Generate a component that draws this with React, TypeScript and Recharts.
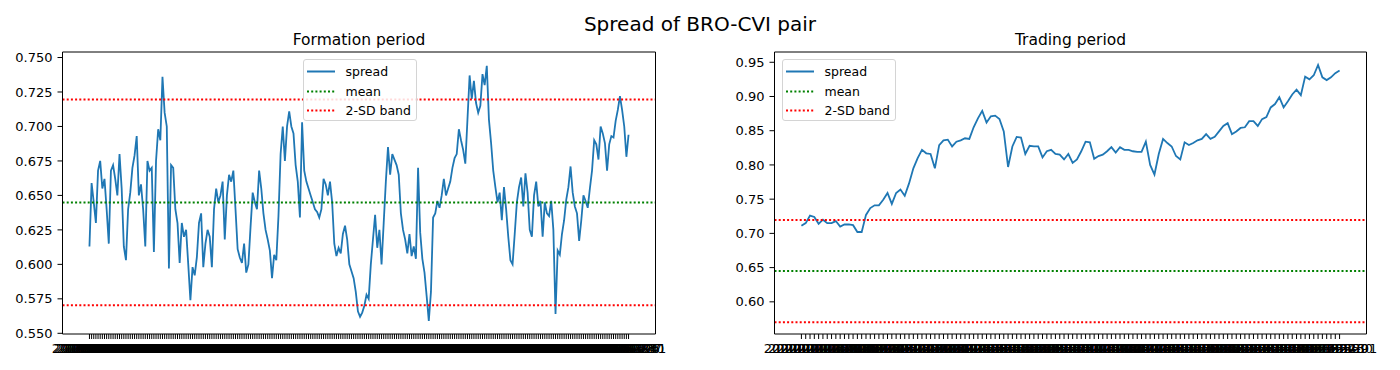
import { LineChart, Line, XAxis, YAxis, ReferenceLine, Legend } from "recharts";

// spread values (formation = 2019, trading = H1 2020)
const formationSpread = [
  0.613, 0.659, 0.645, 0.630, 0.668, 0.675, 0.655, 0.662, 0.640, 0.615,
  0.668, 0.672, 0.662, 0.650, 0.680, 0.655, 0.613, 0.603, 0.640, 0.652,
  0.670, 0.679, 0.693, 0.650, 0.658, 0.640, 0.613, 0.675, 0.668, 0.670,
  0.609, 0.675, 0.698, 0.690, 0.736, 0.710, 0.700, 0.597, 0.672, 0.670,
  0.640, 0.630, 0.601, 0.630, 0.620, 0.625, 0.600, 0.574, 0.598, 0.592,
  0.605, 0.630, 0.637, 0.598, 0.615, 0.625, 0.620, 0.598, 0.640, 0.655,
  0.645, 0.650, 0.660, 0.618, 0.650, 0.665, 0.660, 0.668, 0.640, 0.611,
  0.605, 0.601, 0.615, 0.594, 0.600, 0.627, 0.652, 0.645, 0.640, 0.668,
  0.655, 0.637, 0.625, 0.618, 0.610, 0.590, 0.607, 0.603, 0.635, 0.680,
  0.700, 0.675, 0.700, 0.711, 0.700, 0.695, 0.672, 0.660, 0.634, 0.703,
  0.668, 0.660, 0.655, 0.650, 0.645, 0.640, 0.638, 0.634, 0.640, 0.662,
  0.658, 0.650, 0.660, 0.645, 0.615, 0.606, 0.612, 0.608, 0.622, 0.628,
  0.618, 0.600, 0.595, 0.590, 0.580, 0.566, 0.562, 0.565, 0.570, 0.578,
  0.575, 0.600, 0.618, 0.636, 0.612, 0.625, 0.600, 0.630, 0.660, 0.685,
  0.665, 0.680, 0.676, 0.672, 0.665, 0.637, 0.625, 0.618, 0.608, 0.622,
  0.606, 0.613, 0.604, 0.670, 0.623, 0.604, 0.594, 0.577, 0.559, 0.580,
  0.634, 0.637, 0.646, 0.641, 0.650, 0.662, 0.650, 0.655, 0.660, 0.670,
  0.677, 0.680, 0.698, 0.690, 0.683, 0.673, 0.705, 0.737, 0.720, 0.733,
  0.717, 0.710, 0.715, 0.738, 0.730, 0.744, 0.705, 0.688, 0.668, 0.656,
  0.645, 0.652, 0.632, 0.656, 0.640, 0.620, 0.603, 0.600, 0.622, 0.645,
  0.656, 0.663, 0.642, 0.666, 0.652, 0.625, 0.620, 0.650, 0.660, 0.642,
  0.646, 0.620, 0.645, 0.637, 0.635, 0.646, 0.625, 0.564, 0.610, 0.607,
  0.622, 0.632, 0.647, 0.656, 0.671, 0.652, 0.642, 0.637, 0.617, 0.632,
  0.650, 0.646, 0.641, 0.655, 0.668, 0.690, 0.687, 0.676, 0.700, 0.695,
  0.688, 0.668, 0.687, 0.693, 0.692, 0.704, 0.712, 0.722, 0.712, 0.700,
  0.678, 0.694,
];

const tradingSpread = [
  0.711, 0.715, 0.726, 0.724, 0.714, 0.720, 0.715, 0.715, 0.718, 0.710,
  0.713, 0.713, 0.712, 0.702, 0.702, 0.727, 0.737, 0.741, 0.741, 0.749,
  0.759, 0.743, 0.759, 0.764, 0.755, 0.773, 0.795, 0.810, 0.822, 0.817,
  0.816, 0.795, 0.829, 0.836, 0.837, 0.827, 0.834, 0.836, 0.839, 0.838,
  0.855, 0.868, 0.879, 0.862, 0.871, 0.872, 0.867, 0.849, 0.797, 0.827,
  0.841, 0.840, 0.816, 0.828, 0.827, 0.827, 0.811, 0.820, 0.822, 0.816,
  0.815, 0.808, 0.816, 0.803, 0.808, 0.820, 0.834, 0.833, 0.809, 0.813,
  0.815, 0.820, 0.826, 0.818, 0.826, 0.822, 0.822, 0.820, 0.819, 0.819,
  0.834, 0.800, 0.786, 0.816, 0.838, 0.832, 0.827, 0.813, 0.808, 0.833,
  0.829, 0.832, 0.836, 0.838, 0.845, 0.838, 0.841, 0.849, 0.857, 0.861,
  0.845, 0.849, 0.854, 0.855, 0.864, 0.864, 0.857, 0.867, 0.870, 0.884,
  0.889, 0.899, 0.884, 0.893, 0.903, 0.910, 0.902, 0.929, 0.925, 0.931,
  0.946, 0.928, 0.924, 0.928, 0.934, 0.938,
];

// formation-period statistics (used in both panels)
const SPREAD_MEAN = 0.6449;
const BAND_UPPER = 0.7195;
const BAND_LOWER = 0.5703;

const formationTicks = [0.55, 0.575, 0.6, 0.625, 0.65, 0.675, 0.7, 0.725, 0.75];
const tradingTicks = [0.6, 0.65, 0.7, 0.75, 0.8, 0.85, 0.9, 0.95];

const nyseHolidays = [
  "2019-01-21", "2019-02-18", "2019-04-19", "2019-05-27", "2019-07-04",
  "2019-09-02", "2019-11-28", "2019-12-25",
  "2020-01-20", "2020-02-17", "2020-04-10", "2020-05-25",
];

function tradingDays(start: string, count: number): string[] {
  const out: string[] = [];
  const d = new Date(start + "T00:00:00Z");
  while (out.length < count) {
    const iso = d.toISOString().slice(0, 10);
    const wd = d.getUTCDay();
    if (wd !== 0 && wd !== 6 && !nyseHolidays.includes(iso)) out.push(iso);
    d.setUTCDate(d.getUTCDate() + 1);
  }
  return out;
}

const formationDates = tradingDays("2019-01-02", formationSpread.length);
const tradingDates = tradingDays("2020-01-02", tradingSpread.length);

const FONT = "'DejaVu Sans', sans-serif";
const BLUE = "#1f77b4";
const GREEN = "#008000";
const RED = "#ff0000";
const DOTS = "2 2.2";

function LegendBox() {
  const rows = [
    { label: "spread", color: BLUE, dash: undefined, width: 2 },
    { label: "mean", color: GREEN, dash: DOTS, width: 2 },
    { label: "2-SD band", color: RED, dash: DOTS, width: 2 },
  ];
  return (
    <div
      style={{
        width: 112,
        height: 60,
        border: "1px solid #d4d4d4",
        borderRadius: 3,
        background: "rgba(255,255,255,0.85)",
        fontFamily: FONT,
        fontSize: 12.5,
        color: "#000",
        position: "relative",
      }}
    >
      {rows.map((r, i) => (
        <div key={r.label} style={{ position: "absolute", left: 3, top: 2 + i * 19.5, height: 19, display: "flex", alignItems: "center" }}>
          <svg width={29} height={19}>
            <line x1={0} x2={28} y1={9.5} y2={9.5} stroke={r.color} strokeWidth={r.width} strokeDasharray={r.dash} />
          </svg>
          <span style={{ marginLeft: 10, whiteSpace: "nowrap" }}>{r.label}</span>
        </div>
      ))}
    </div>
  );
}

interface PanelProps {
  dates: string[];
  values: number[];
  domain: [number, number];
  ticks: number[];
  digits: number;
  yWidth: number;
  rightMargin: number;
  legendLeft: number;
}

function SpreadPanel({ dates, values, domain, ticks, digits, yWidth, rightMargin, legendLeft }: PanelProps) {
  const data = dates.map((d, i) => ({ date: d, spread: values[i] }));
  const plotWidth = 700 - yWidth - rightMargin;
  const pad = (plotWidth - plotWidth / 1.1) / 2;
  return (
    <LineChart width={700} height={370} data={data} margin={{ top: 51, right: rightMargin - 1, bottom: 6, left: 0 }}>
      <XAxis
        dataKey="date"
        interval={0}
        padding={{ left: pad, right: pad }}
        height={30}
        stroke="#000"
        tickSize={5}
        tickMargin={5}
        tick={{ fill: "#000", fontSize: 13, fontFamily: FONT }}
      />
      <XAxis
        xAxisId="top"
        orientation="top"
        dataKey="date"
        height={1}
        padding={{ left: pad, right: pad }}
        tick={false}
        tickLine={false}
        axisLine={{ stroke: "#000" }}
      />
      <YAxis
        type="number"
        domain={domain}
        ticks={ticks}
        allowDataOverflow
        width={yWidth}
        stroke="#000"
        tickSize={5}
        tickMargin={5}
        tick={{ fill: "#000", fontSize: 13, fontFamily: FONT }}
        tickFormatter={(v: number) => v.toFixed(digits)}
      />
      <YAxis
        yAxisId="right"
        orientation="right"
        type="number"
        domain={domain}
        allowDataOverflow
        width={1}
        tick={false}
        tickLine={false}
        axisLine={{ stroke: "#000" }}
      />
      <Line type="linear" dataKey="spread" stroke={BLUE} strokeWidth={1.8} dot={false} isAnimationActive={false} />
      <ReferenceLine y={SPREAD_MEAN} stroke={GREEN} strokeWidth={2} strokeDasharray={DOTS} />
      <ReferenceLine y={BAND_UPPER} stroke={RED} strokeWidth={2} strokeDasharray={DOTS} />
      <ReferenceLine y={BAND_LOWER} stroke={RED} strokeWidth={2} strokeDasharray={DOTS} />
      <Legend
        layout="vertical"
        align="center"
        verticalAlign="middle"
        content={() => <LegendBox />}
        wrapperStyle={{ left: legendLeft, top: 59, width: 114, height: 62 }}
      />
    </LineChart>
  );
}

export default function App() {
  const titleStyle = { position: "absolute" as const, fontFamily: FONT, color: "#000", textAlign: "center" as const, whiteSpace: "nowrap" as const };
  return (
    <div style={{ position: "absolute", left: 0, top: 0, width: 1400, height: 370, background: "#fff", overflow: "hidden" }}>
      <div style={{ ...titleStyle, left: 0, width: 1400, top: 12, fontSize: 20, lineHeight: "24px" }}>Spread of BRO-CVI pair</div>
      <div style={{ ...titleStyle, left: 209, width: 300, top: 30.5, fontSize: 15.5, lineHeight: "18px" }}>Formation period</div>
      <div style={{ ...titleStyle, left: 920.5, width: 300, top: 30.5, fontSize: 15.5, lineHeight: "18px" }}>Trading period</div>
      <div style={{ position: "absolute", left: 0, top: 0 }}>
        <SpreadPanel
          dates={formationDates}
          values={formationSpread}
          domain={[0.5495, 0.754]}
          ticks={formationTicks}
          digits={3}
          yWidth={62.5}
          rightMargin={44.5}
          legendLeft={302.5}
        />
      </div>
      <div style={{ position: "absolute", left: 700, top: 0 }}>
        <SpreadPanel
          dates={tradingDates}
          values={tradingSpread}
          domain={[0.553, 0.965]}
          ticks={tradingTicks}
          digits={2}
          yWidth={74.5}
          rightMargin={33.5}
          legendLeft={81.5}
        />
      </div>
    </div>
  );
}
